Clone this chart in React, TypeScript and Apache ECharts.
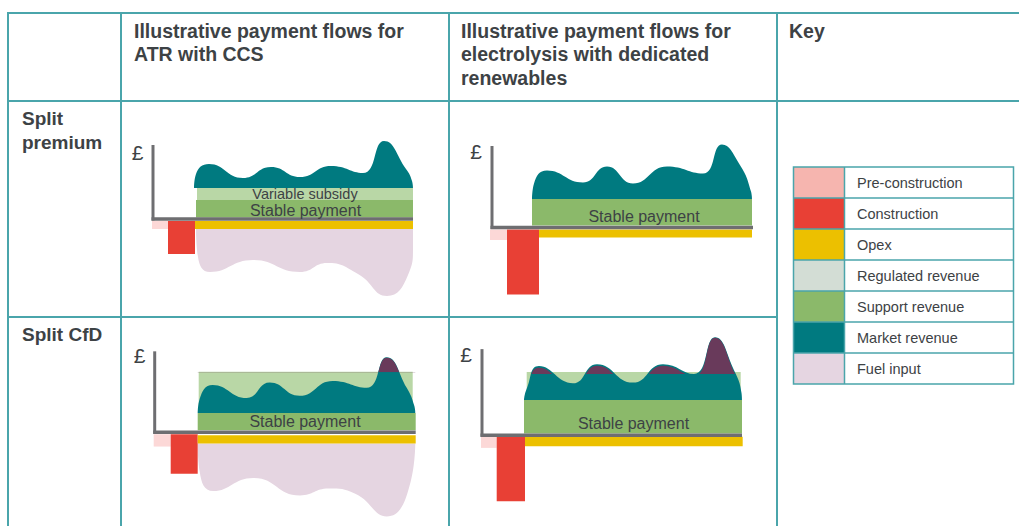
import React, { useEffect, useRef } from 'react';
import * as echarts from 'echarts';

type Pt = [number, number];
type Block = [number, number, number, number]; // [time start, time end, £ from, £ to]

// ---------- Texts ----------
const COLUMN_HEADINGS: string[][] = [
  ['Illustrative payment flows for', 'ATR with CCS'],
  ['Illustrative payment flows for', 'electrolysis with dedicated', 'renewables'],
  ['Key'],
];
const ROW_HEADINGS: string[][] = [['Split', 'premium'], ['Split CfD']];
const KEY_LABELS = [
  'Pre-construction',
  'Construction',
  'Opex',
  'Regulated revenue',
  'Support revenue',
  'Market revenue',
  'Fuel input',
];

// ---------- Panel A: ATR with CCS, split premium ----------
const ATR_PREMIUM_AXIS: Pt = [260, 74];
const ATR_PREMIUM_PRE: Block[] = [[-1, 15, -2, -10]];
const ATR_PREMIUM_CONSTRUCTION: Block[] = [[15, 42, -2, -35]];
const ATR_PREMIUM_OPEX: Block[] = [[42, 260, -2, -10]];
const ATR_PREMIUM_STABLE: Block[] = [[43, 260, 1.5, 19]];
const ATR_PREMIUM_VARIABLE: Block[] = [[44, 260, 19, 31]];
const ATR_PREMIUM_MARKET: Pt[] = [
  [41, 31], [43, 45], [56, 55], [90, 41], [118, 52], [147, 42], [178, 53], [210, 46],
  [231, 78], [253, 50], [259, 38], [260, 31],
];
const ATR_PREMIUM_FUEL: Pt[] = [
  [43, -10], [45, -38], [57, -53], [100, -41], [147, -53], [174, -44], [205, -55],
  [234, -77], [255, -56], [260, -28], [260, -10],
];

// ---------- Panel B: electrolysis, split premium ----------
const ELEC_PREMIUM_AXIS: Pt = [261, 81.5];
const ELEC_PREMIUM_PRE: Block[] = [[-2, 15, -2, -12.5]];
const ELEC_PREMIUM_CONSTRUCTION: Block[] = [[15, 47, -2, -67]];
const ELEC_PREMIUM_OPEX: Block[] = [[47, 260, -2, -10]];
const ELEC_PREMIUM_STABLE: Block[] = [[40, 260, 2, 28.5]];
const ELEC_PREMIUM_MARKET: Pt[] = [
  [40, 28.5], [42, 44], [55, 57], [91, 45], [115, 61], [141, 44], [175, 61], [211, 54],
  [230, 83], [247, 64], [259, 36], [260, 28.5],
];

// ---------- Panel C: ATR with CCS, split CfD ----------
const ATR_CFD_AXIS: Pt = [261, 82];
const ATR_CFD_PRE: Block[] = [[-1, 16, -2, -14.5]];
const ATR_CFD_CONSTRUCTION: Block[] = [[16, 43, -2, -42]];
const ATR_CFD_OPEX: Block[] = [[43, 261, -3, -11.3]];
const ATR_CFD_STABLE: Block[] = [[43, 261, 2, 19.4]];
const ATR_CFD_VARIABLE: Block[] = [[44, 258, 19.4, 61.4]];
const ATR_CFD_CAP = 61.4;
const ATR_CFD_MARKET: Pt[] = [
  [43, 19.4], [45, 34], [58, 48], [92, 34.7], [115, 50.4], [145, 37], [178, 52], [212, 45],
  [232, 76], [252, 45], [259.5, 27], [260.6, 19.4],
];
const ATR_CFD_FUEL: Pt[] = [
  [43, -11.3], [45, -40], [58.6, -59.6], [98.6, -46.3], [145.3, -64], [174, -57], [200, -62],
  [232, -85.3], [256, -50], [260.6, -11.3],
];

// ---------- Panel D: electrolysis, split CfD ----------
const ELEC_CFD_AXIS: Pt = [260, 90];
const ELEC_CFD_PRE: Block[] = [[-1, 14.7, -1.7, -13.3]];
const ELEC_CFD_CONSTRUCTION: Block[] = [[14.7, 43, -1.7, -69]];
const ELEC_CFD_OPEX: Block[] = [[43, 260.7, -1.7, -11.7]];
const ELEC_CFD_STABLE: Block[] = [[42, 260, 1.7, 36.7]];
const ELEC_CFD_VARIABLE: Block[] = [[44.7, 258.7, 36.7, 66]];
const ELEC_CFD_CAP = 66;
const ELEC_CFD_MARKET: Pt[] = [
  [42, 36.7], [44.5, 48], [57, 72.3], [91, 54.3], [115, 74.3], [151, 55], [181, 74.3],
  [212, 64], [233, 102.3], [252, 68], [259.5, 44], [260, 36.7],
];

// ---------- Styles ----------
const FONT = '"Liberation Sans", Arial, Helvetica, sans-serif';
const TEXT = '#3d4245';
const RULE = '#4aa5ab';
const AXIS = '#6e6e71';
const COL = {
  pre: '#fcd8d7',
  preKey: '#f6b5af',
  construction: '#e84035',
  opex: '#ecc000',
  regulated: '#d3ddd5',
  variable: '#b9d7a6',
  support: '#8bb96a',
  market: '#007a80',
  peak: '#693a5b',
  fuel: '#e5d5e1',
};
const KEY_COLORS = [COL.preKey, COL.construction, COL.opex, COL.regulated, COL.support, COL.market, COL.fuel];

const XMIN = -6, XMAX = 266, YMIN = -95, YMAX = 110;

interface Panel {
  origin: Pt;
  axis: Pt;
  pre: Block[];
  construction: Block[];
  opex: Block[];
  stable: Block[];
  upper: Block[];
  market: Pt[];
  fuel: Pt[] | null;
  cap: number | null;
  pound: Pt;
  labels: { text: string; x: number; y: number; size: number }[];
}

const PANELS: Panel[] = [
  {
    origin: [153, 219], axis: ATR_PREMIUM_AXIS, pre: ATR_PREMIUM_PRE, construction: ATR_PREMIUM_CONSTRUCTION,
    opex: ATR_PREMIUM_OPEX, stable: ATR_PREMIUM_STABLE, upper: ATR_PREMIUM_VARIABLE,
    market: ATR_PREMIUM_MARKET, fuel: ATR_PREMIUM_FUEL, cap: null, pound: [137.5, 152],
    labels: [
      { text: 'Variable subsidy', x: 305, y: 194, size: 14.5 },
      { text: 'Stable payment', x: 305.5, y: 210, size: 16 },
    ],
  },
  {
    origin: [492, 227.5], axis: ELEC_PREMIUM_AXIS, pre: ELEC_PREMIUM_PRE, construction: ELEC_PREMIUM_CONSTRUCTION,
    opex: ELEC_PREMIUM_OPEX, stable: ELEC_PREMIUM_STABLE, upper: [],
    market: ELEC_PREMIUM_MARKET, fuel: null, cap: null, pound: [476, 151.5],
    labels: [{ text: 'Stable payment', x: 644, y: 216.5, size: 16 }],
  },
  {
    origin: [154.7, 433.7], axis: ATR_CFD_AXIS, pre: ATR_CFD_PRE, construction: ATR_CFD_CONSTRUCTION,
    opex: ATR_CFD_OPEX, stable: ATR_CFD_STABLE, upper: ATR_CFD_VARIABLE,
    market: ATR_CFD_MARKET, fuel: ATR_CFD_FUEL, cap: ATR_CFD_CAP, pound: [139.5, 355],
    labels: [{ text: 'Stable payment', x: 305, y: 421.5, size: 16 }],
  },
  {
    origin: [482, 440], axis: ELEC_CFD_AXIS, pre: ELEC_CFD_PRE, construction: ELEC_CFD_CONSTRUCTION,
    opex: ELEC_CFD_OPEX, stable: ELEC_CFD_STABLE, upper: ELEC_CFD_VARIABLE,
    market: ELEC_CFD_MARKET, fuel: null, cap: ELEC_CFD_CAP, pound: [466, 354],
    labels: [{ text: 'Stable payment', x: 633.5, y: 423.5, size: 16 }],
  },
];

function rectSeries(data: Block[], color: string, idx: number, z: number) {
  return {
    type: 'custom',
    xAxisIndex: idx,
    yAxisIndex: idx,
    data,
    z,
    silent: true,
    renderItem: (_p: any, api: any) => {
      const a = api.coord([api.value(0), api.value(2)]);
      const b = api.coord([api.value(1), api.value(3)]);
      return {
        type: 'rect',
        shape: {
          x: Math.min(a[0], b[0]),
          y: Math.min(a[1], b[1]),
          width: Math.abs(b[0] - a[0]),
          height: Math.abs(b[1] - a[1]),
        },
        style: { fill: color },
      };
    },
  };
}

function areaSeries(data: Pt[], color: string, idx: number, z: number, origin: any) {
  return {
    type: 'line',
    xAxisIndex: idx,
    yAxisIndex: idx,
    data,
    z,
    silent: true,
    smooth: 0.5,
    symbol: 'none',
    lineStyle: { width: 0.01, color },
    areaStyle: { color, opacity: 1, origin },
    clip: true,
  };
}

function buildOption() {
  const grid: any[] = [];
  const xAxis: any[] = [];
  const yAxis: any[] = [];
  const series: any[] = [];
  const graphic: any[] = [];

  PANELS.forEach((p, i) => {
    grid.push({
      left: p.origin[0] + XMIN,
      top: p.origin[1] - YMAX,
      width: XMAX - XMIN,
      height: YMAX - YMIN,
    });
    xAxis.push({ type: 'value', gridIndex: i, min: XMIN, max: XMAX, show: false });
    yAxis.push({ type: 'value', gridIndex: i, min: YMIN, max: YMAX, show: false });
  });

  PANELS.forEach((p, i) => {
    if (p.fuel) series.push(areaSeries(p.fuel, COL.fuel, i, 1, p.fuel[0][1]));
    series.push(rectSeries(p.pre, COL.pre, i, 2));
    series.push(rectSeries(p.construction, COL.construction, i, 2));
    series.push(rectSeries(p.opex, COL.opex, i, 2));
    if (p.upper.length) series.push(rectSeries(p.upper, COL.variable, i, 2));
    series.push(areaSeries(p.market, COL.market, i, 3, p.market[0][1]));
    series.push(rectSeries(p.stable, COL.support, i, 5));
    series.push({
      type: 'custom',
      xAxisIndex: i,
      yAxisIndex: i,
      data: [p.axis],
      z: 6,
      silent: true,
      renderItem: (_q: any, api: any) => {
        const o = api.coord([0, 0]);
        const e = api.coord([api.value(0), 0]);
        const t = api.coord([0, api.value(1)]);
        return {
          type: 'group',
          children: [
            { type: 'line', shape: { x1: o[0], y1: o[1] + 1.5, x2: t[0], y2: t[1] }, style: { stroke: AXIS, lineWidth: 3 } },
            { type: 'line', shape: { x1: o[0] - 1.5, y1: o[1], x2: e[0], y2: e[1] }, style: { stroke: AXIS, lineWidth: 3.5 } },
          ],
        };
      },
    });
  });

  // Overlay grids: market revenue above the cap (paid back)
  PANELS.forEach((p) => {
    if (p.cap == null) return;
    const gi = grid.length;
    grid.push({
      left: p.origin[0] + XMIN,
      top: p.origin[1] - YMAX,
      width: XMAX - XMIN,
      height: YMAX - p.cap,
    });
    xAxis.push({ type: 'value', gridIndex: gi, min: XMIN, max: XMAX, show: false });
    yAxis.push({ type: 'value', gridIndex: gi, min: p.cap, max: YMAX, show: false });
    series.push(areaSeries(p.market, COL.peak, gi, 4, 'start'));
  });

  // Table rules
  graphic.push({ type: 'line', z: 50, shape: { x1: 7, y1: 13, x2: 1019, y2: 13 }, style: { stroke: RULE, lineWidth: 2 } });
  graphic.push({ type: 'line', z: 50, shape: { x1: 7, y1: 101, x2: 1019, y2: 101 }, style: { stroke: RULE, lineWidth: 2 } });
  graphic.push({ type: 'line', z: 50, shape: { x1: 7, y1: 317, x2: 777, y2: 317 }, style: { stroke: RULE, lineWidth: 2 } });
  [8, 121, 449, 777].forEach((x) =>
    graphic.push({ type: 'line', z: 50, shape: { x1: x, y1: 12, x2: x, y2: 526 }, style: { stroke: RULE, lineWidth: 2 } }),
  );

  // Headings
  const headX = [134, 461, 789];
  COLUMN_HEADINGS.forEach((lines, c) =>
    lines.forEach((t, k) =>
      graphic.push({
        type: 'text', z: 60, x: headX[c], y: 30.5 + k * 23.5,
        style: { text: t, fill: TEXT, font: `bold 19.5px ${FONT}`, textAlign: 'left', textVerticalAlign: 'middle' },
      }),
    ),
  );
  const rowY = [118.5, 334];
  ROW_HEADINGS.forEach((lines, r) =>
    lines.forEach((t, k) =>
      graphic.push({
        type: 'text', z: 60, x: 22, y: rowY[r] + k * 23.5,
        style: { text: t, fill: TEXT, font: `bold 19px ${FONT}`, textAlign: 'left', textVerticalAlign: 'middle' },
      }),
    ),
  );

  // Panel texts
  PANELS.forEach((p) => {
    graphic.push({
      type: 'text', z: 60, x: p.pound[0], y: p.pound[1],
      style: { text: '£', fill: TEXT, font: `21px ${FONT}`, textAlign: 'center', textVerticalAlign: 'middle' },
    });
    p.labels.forEach((l) =>
      graphic.push({
        type: 'text', z: 60, x: l.x, y: l.y,
        style: { text: l.text, fill: TEXT, font: `${l.size}px ${FONT}`, textAlign: 'center', textVerticalAlign: 'middle' },
      }),
    );
  });

  // Key
  const KX = 793.5, KY = 167, KW = 220, KS = 51, KR = 31;
  KEY_LABELS.forEach((label, i) => {
    graphic.push({ type: 'rect', z: 55, shape: { x: KX, y: KY + i * KR, width: KS, height: KR }, style: { fill: KEY_COLORS[i] } });
    graphic.push({
      type: 'text', z: 60, x: 857, y: KY + i * KR + KR / 2,
      style: { text: label, fill: TEXT, font: `14.5px ${FONT}`, textAlign: 'left', textVerticalAlign: 'middle' },
    });
    if (i > 0)
      graphic.push({ type: 'line', z: 56, shape: { x1: KX, y1: KY + i * KR, x2: KX + KW, y2: KY + i * KR }, style: { stroke: RULE, lineWidth: 1.5 } });
  });
  graphic.push({ type: 'rect', z: 57, shape: { x: KX, y: KY, width: KW, height: KR * KEY_LABELS.length }, style: { fill: 'none', stroke: RULE, lineWidth: 1.5 } });
  graphic.push({ type: 'line', z: 57, shape: { x1: KX + KS, y1: KY, x2: KX + KS, y2: KY + KR * KEY_LABELS.length }, style: { stroke: RULE, lineWidth: 1.5 } });

  return {
    animation: false,
    backgroundColor: '#ffffff',
    grid,
    xAxis,
    yAxis,
    series,
    graphic: { elements: graphic },
  };
}

export default function App() {
  const ref = useRef<HTMLDivElement>(null);
  useEffect(() => {
    if (!ref.current) return;
    const chart = echarts.init(ref.current, null, { renderer: 'svg' });
    chart.setOption(buildOption() as any);
    return () => chart.dispose();
  }, []);
  return (
    <div
      ref={ref}
      style={{ position: 'fixed', left: 0, top: 0, width: 1019, height: 526, background: '#fff' }}
    />
  );
}
